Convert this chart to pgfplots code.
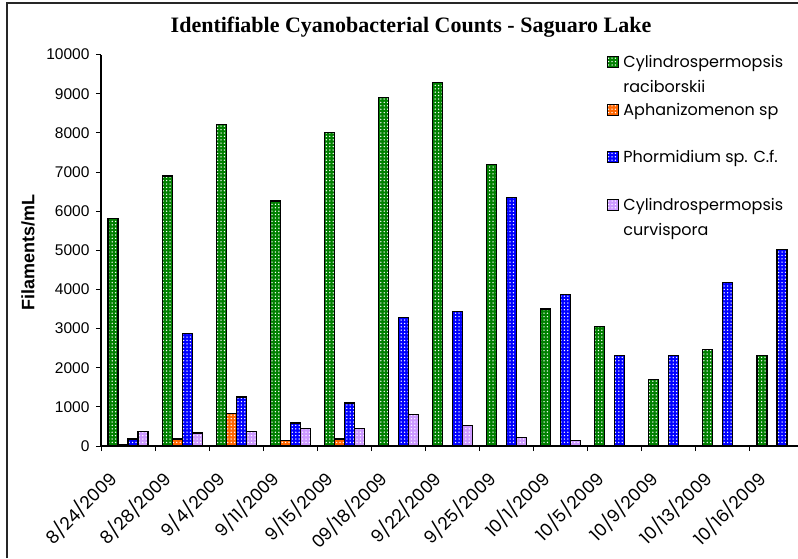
\documentclass[border=0pt]{standalone}
\usepackage{pgfplots}
\pgfplotsset{compat=1.18}
\usepackage{fontspec}
\setmainfont{Liberation Sans}
\newfontfamily\gothic{Poppins}
\newfontfamily\timesb{Liberation Serif}
\usetikzlibrary{patterns}
\pgfdeclarepatternformonly{bigdots}{\pgfqpoint{-1pt}{-1pt}}{\pgfqpoint{2.4pt}{2.4pt}}{\pgfqpoint{3.4pt}{3.4pt}}{%
  \pgfpathcircle{\pgfqpoint{0pt}{0pt}}{0.75pt}\pgfusepath{fill}}
\definecolor{cgreen}{RGB}{0,128,0}
\definecolor{corange}{RGB}{255,102,0}
\definecolor{cblue}{RGB}{0,0,255}
\definecolor{clav}{RGB}{204,153,255}
\begin{document}
\begin{tikzpicture}
\begin{axis}[
  at={(101pt,112pt)}, anchor=south west,
  scale only axis, width=703pt, height=391.4pt,
  ymin=0, ymax=10000, xmin=-0.5, xmax=12.5,
  ybar=0pt, bar width=10pt,
  axis x line*=bottom, axis y line*=left,
  axis line style={black, line width=1.2pt, -},
  xtick={-0.5,0.5,...,12.5},
  x tick label as interval,
  xticklabels={8/24/2009,8/28/2009,9/4/2009,9/11/2009,9/15/2009,09/18/2009,9/22/2009,9/25/2009,10/1/2009,10/5/2009,10/9/2009,10/13/2009,10/16/2009},
  ytick={0,1000,...,10000},
  tick align=outside, major tick length=5pt,
  tick style={black, line width=1pt},
  /pgf/number format/assume math mode=true,
  scaled y ticks=false,
  yticklabel style={font=\fontsize{15.5}{18}\selectfont, /pgf/number format/1000 sep={}, xshift=-3pt},
  xticklabel style={font=\gothic\fontsize{17.5}{19}\selectfont, xshift=-12pt, yshift=-22pt, rotate=45, anchor=east},
  ylabel={Filaments/mL},
  ylabel style={font=\bfseries\fontsize{18}{20}\selectfont, at={(axis description cs:-0.0949,0.494)}, anchor=base},
  title={Identifiable Cyanobacterial Counts - Saguaro Lake},
  every axis title shift=0pt,
  title style={font=\timesb\bfseries\fontsize{22}{24}\selectfont, at={(axis description cs:0.441,1.0552)}, anchor=base},
  legend cell align=left,
  legend image code/.code={\draw[#1] (0pt,0pt) rectangle (11pt,11pt);},
  legend style={draw=none, fill=none, at={(rel axis cs:0.7198,1.009)}, anchor=north west,
    inner sep=0pt, row sep=0pt, column sep=4pt,
    cells={anchor=base west},
    nodes={inner sep=0pt, text height=16.5pt, text depth=31pt},
    font=\gothic\fontsize{16}{25}\selectfont},
  every axis plot/.append style={draw=black, line width=1.2pt},
]
\addplot[fill=cgreen, postaction={pattern=bigdots, pattern color=white}] coordinates {
 (0,5820) (1,6900) (2,8220) (3,6260) (4,8000) (5,8910) (6,9280) (7,7200) (8,3500) (9,3060) (10,1700) (11,2470) (12,2320)};
\addlegendentry{\rlap{\raisebox{-25pt}{raciborskii}}Cylindrospermopsis}
\addplot[fill=corange, postaction={pattern=bigdots, pattern color=white}] coordinates {
 (0,40) (1,180) (2,840) (3,140) (4,180)};
\addlegendentry{Aphanizomenon sp}
\addplot[fill=cblue, postaction={pattern=bigdots, pattern color=white}] coordinates {
 (0,180) (1,2880) (2,1250) (3,590) (4,1100) (5,3280) (6,3430) (7,6340) (8,3880) (9,2320) (10,2320) (11,4170) (12,5020)};
\addlegendentry{Phormidium sp. C.f.}
\addplot[fill=clav, postaction={pattern=bigdots, pattern color=white}] coordinates {
 (0,365) (1,330) (2,365) (3,443) (4,443) (5,810) (6,520) (7,221) (8,145)};
\addlegendentry{\rlap{\raisebox{-25pt}{curvispora}}Cylindrospermopsis}
\end{axis}
\draw[line width=1.5pt, black!85] (7pt,0pt) -- (7pt,555pt) -- (800pt,555pt);
\pgfresetboundingbox
\useasboundingbox (0,0) rectangle (798pt,558pt);
\end{tikzpicture}
\end{document}
